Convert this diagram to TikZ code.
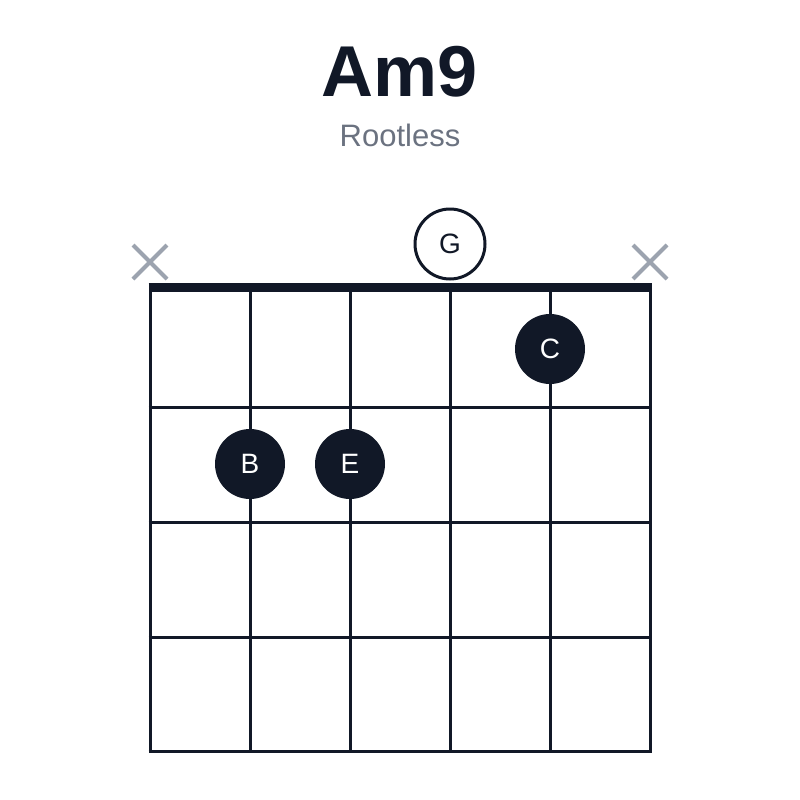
\documentclass[tikz,border=0pt]{standalone}
\usepackage{fontspec}
\setmainfont{Liberation Sans}
\begin{document}
\definecolor{ink}{HTML}{111827}
\definecolor{mute}{HTML}{6B7280}
\definecolor{xg}{HTML}{9CA3AF}
\begin{tikzpicture}[x=1pt,y=-1pt,
  grid/.style={draw=ink,line width=3pt},
  dot/.style={circle,fill=ink,minimum size=70pt,inner sep=0pt,text=white,font=\fontsize{28}{30}\selectfont},
  open/.style={circle,draw=ink,line width=3pt,fill=white,minimum size=70pt,inner sep=0pt,text=ink,font=\fontsize{28}{30}\selectfont},
  xm/.style={draw=xg,line width=4pt}]
\useasboundingbox (0,0) rectangle (800,800);
\node[font=\bfseries\fontsize{72}{74}\selectfont,text=ink] (title) at (400,72) {Am9};
\node[font=\fontsize{31}{33}\selectfont,text=mute] (sub) at (400,135) {Rootless};
\foreach \i in {0,...,5}{\draw[grid] (150+100*\i,287) -- (150+100*\i,751);}
\foreach \y in {407,522,637,751}{\draw[grid] (148.5,\y) -- (651.5,\y);}
\draw[draw=ink,line width=9pt] (148.5,287) -- (651.5,287);
\node[open] (g) at (450,244) {G};
\node[dot] (c) at (550,349) {C};
\node[dot] (b) at (250,464) {B};
\node[dot] (e) at (350,464) {E};
\foreach \x in {150,650}{\draw[xm] (\x-17,245) -- (\x+17,279) (\x-17,279) -- (\x+17,245);}
\end{tikzpicture}
\end{document}
